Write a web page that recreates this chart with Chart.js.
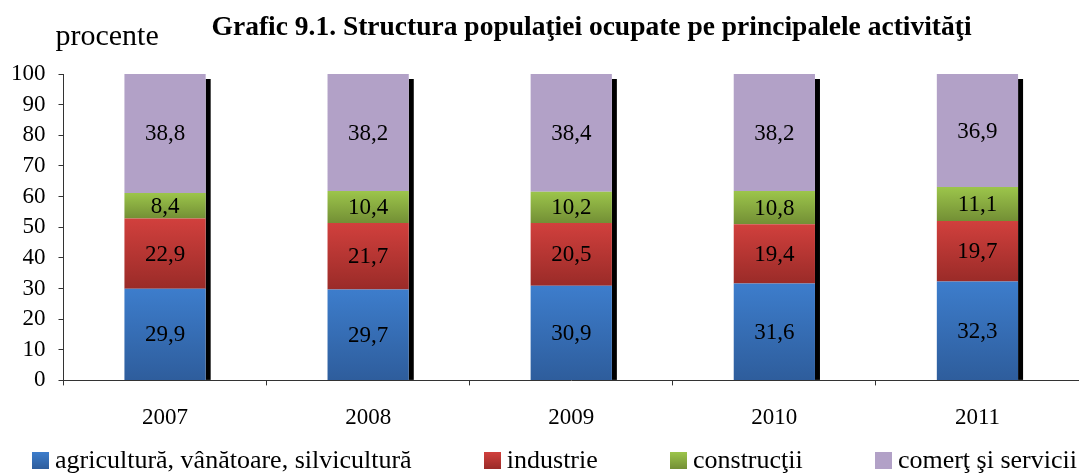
<!DOCTYPE html>
<html>
<head>
<meta charset="utf-8">
<script src="https://cdn.jsdelivr.net/npm/chart.js@4.4.1/dist/chart.umd.min.js"></script>
<style>
  html, body { margin: 0; padding: 0; background: #fff; }
  #wrap { width: 1079px; height: 474px; position: relative; }
  #legend {
    position: absolute; left: 32px; right: 2px; top: 447px; height: 26px;
    display: flex; justify-content: space-between; align-items: center;
    font-family: "Liberation Serif", "Times New Roman", serif; font-size: 26px; line-height: 26px; color: #000;
  }
  #legend .item { display: flex; align-items: center; white-space: nowrap; }
  #legend .box { width: 17px; height: 17px; margin-right: 6px; }
</style>
</head>
<body>
<div id="wrap"><canvas id="chart"></canvas><div id="legend"></div></div>
<script>
// #### Data
const years = ['2007', '2008', '2009', '2010', '2011'];
const seriesNames = ['agricultură, vânătoare, silvicultură', 'industrie', 'construcţii', 'comerţ şi servicii'];
const agriculture = [29.9, 29.7, 30.9, 31.6, 32.3];
const industry = [22.9, 21.7, 20.5, 19.4, 19.7];
const construction = [8.4, 10.4, 10.2, 10.8, 11.1];
const services = [38.8, 38.2, 38.4, 38.2, 36.9];
const yTicks = [0, 10, 20, 30, 40, 50, 60, 70, 80, 90, 100];
const titleText = 'Grafic 9.1. Structura populaţiei ocupate pe principalele activităţi';
const axisTitle = 'procente';

// gradient stops top -> bottom
const gradients = [
    ['#3d7dcc', '#2e5d9c'],
    ['#d1403d', '#9a2b28'],
    ['#9cc54b', '#738f35'],
    ['#b2a1c7', '#b2a1c7']
];

const serif = '"Liberation Serif", "Times New Roman", serif';
const allSeries = [agriculture, industry, construction, services];

function segmentGradient(context) {
    const chart = context.chart;
    const y = chart.scales.y;
    const ds = context.datasetIndex;
    const i = context.dataIndex;
    if (!y || i === undefined) return gradients[ds][0];
    let base = 0;
    for (let k = 0; k < ds; k++) base += allSeries[k][i];
    const top = base + allSeries[ds][i];
    const y0 = y.getPixelForValue(top);
    const y1 = y.getPixelForValue(base);
    if (!isFinite(y0) || !isFinite(y1) || y0 === y1) return gradients[ds][0];
    const g = chart.ctx.createLinearGradient(0, y0, 0, y1);
    g.addColorStop(0, gradients[ds][0]);
    g.addColorStop(1, gradients[ds][1]);
    return g;
}

// black shadow to the right of every stack
const shadowPlugin = {
    id: 'shadow',
    beforeDatasetsDraw(chart) {
        const ctx = chart.ctx;
        const first = chart.getDatasetMeta(0).data;
        const last = chart.getDatasetMeta(allSeries.length - 1).data;
        ctx.save();
        ctx.fillStyle = '#000';
        first.forEach((bar, i) => {
            const top = last[i];
            const right = bar.x + bar.width / 2;
            ctx.fillRect(right, top.y + 5, 5, bar.base - top.y - 5);
        });
        ctx.restore();
    }
};

// values inside segments + header texts
const labelsPlugin = {
    id: 'segLabels',
    afterDatasetsDraw(chart) {
        const ctx = chart.ctx;
        ctx.save();
        ctx.fillStyle = '#000';
        ctx.font = '23px ' + serif;
        ctx.textAlign = 'center';
        ctx.textBaseline = 'middle';
        chart.data.datasets.forEach((ds, d) => {
            chart.getDatasetMeta(d).data.forEach((bar, i) => {
                const p = bar.getCenterPoint();
                ctx.fillText(ds.data[i].toFixed(1).replace('.', ','), p.x, p.y + 1);
            });
        });
        ctx.restore();
    },
    afterDraw(chart) {
        const ctx = chart.ctx;
        const area = chart.chartArea;
        ctx.save();
        ctx.fillStyle = '#000';
        ctx.textBaseline = 'alphabetic';
        ctx.textAlign = 'left';
        ctx.font = '30px ' + serif;
        ctx.fillText(axisTitle, area.left - 8, area.top - 29);
        ctx.textAlign = 'center';
        ctx.font = 'bold 27.5px ' + serif;
        ctx.fillText(titleText, area.left + area.width * 0.52, area.top - 39);
        ctx.restore();
    }
};

new Chart(document.getElementById('chart'), {
    type: 'bar',
    data: {
        labels: years,
        datasets: allSeries.map((values, k) => ({
            label: seriesNames[k],
            data: values,
            backgroundColor: segmentGradient,
            borderWidth: 0,
            categoryPercentage: 1,
            barPercentage: 0.4
        }))
    },
    options: {
        responsive: true,
        maintainAspectRatio: false,
        animation: false,
        layout: { padding: { top: 74, left: -2, right: 0, bottom: 23 } },
        scales: {
            x: {
                stacked: true,
                grid: { drawOnChartArea: false, drawTicks: true, tickLength: 5, color: '#333' },
                border: { color: '#333', width: 1 },
                ticks: { color: '#000', font: { family: serif, size: 23 }, padding: 19 }
            },
            y: {
                stacked: true,
                min: 0,
                max: 100,
                afterBuildTicks(axis) { axis.ticks = yTicks.map(v => ({ value: v })); },
                grid: { drawOnChartArea: false, drawTicks: true, tickLength: 5, color: '#333' },
                border: { color: '#333', width: 1 },
                ticks: { color: '#000', font: { family: serif, size: 23 }, padding: 13, autoSkip: false }
            }
        },
        plugins: {
            legend: { display: false },
            title: { display: false },
            tooltip: { enabled: false }
        }
    },
    plugins: [shadowPlugin, labelsPlugin]
});

// #### Legend
const legendEl = document.getElementById('legend');
seriesNames.forEach((name, k) => {
    const item = document.createElement('div');
    item.className = 'item';
    const box = document.createElement('span');
    box.className = 'box';
    box.style.background = 'linear-gradient(' + gradients[k][0] + ', ' + gradients[k][1] + ')';
    const text = document.createElement('span');
    text.textContent = name;
    item.appendChild(box);
    item.appendChild(text);
    legendEl.appendChild(item);
});
</script>
</body>
</html>
